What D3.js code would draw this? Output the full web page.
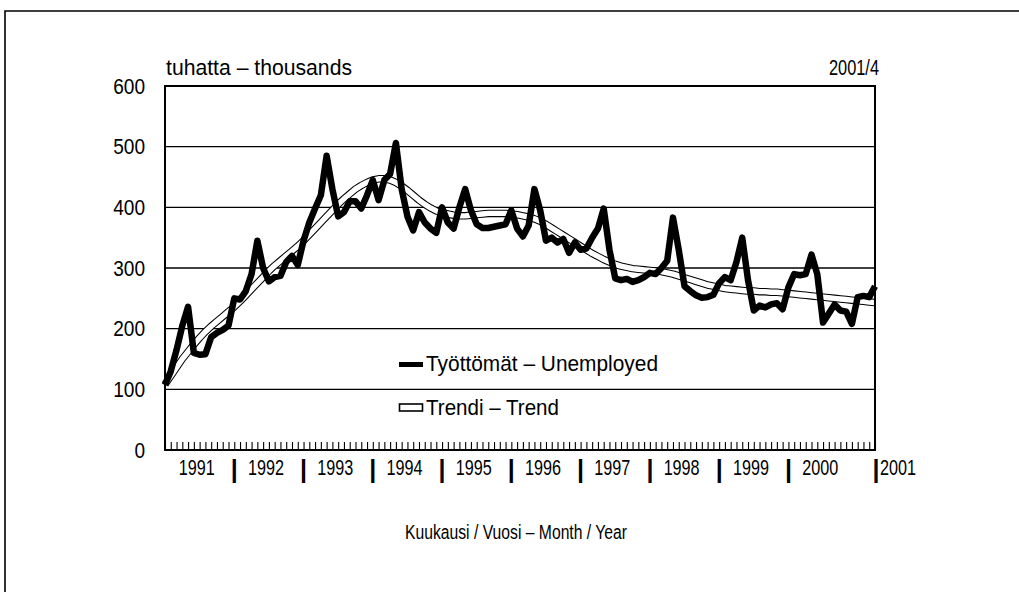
<!DOCTYPE html>
<html><head><meta charset="utf-8">
<script src="https://cdn.jsdelivr.net/npm/d3@7"></script>
<style>
body{margin:0;background:#fff}
text{font-family:"Liberation Sans",Arial,sans-serif;fill:#000}
</style></head>
<body><svg id="c" width="1019" height="602"></svg>
<script>
// ---- data ----
const years = [1991,1992,1993,1994,1995,1996,1997,1998,1999,2000,2001];
const yTicks = [0,100,200,300,400,500,600];
// monthly unemployed (thousands), Jan 1991 .. Apr 2001
const unemployed = [
 107,130,165,205,236,160,157,158,186,193,198,205,
 250,248,262,290,345,300,278,285,287,310,320,305,
 345,375,398,420,485,430,385,392,410,410,398,420,
 445,412,445,455,506,430,385,362,392,375,365,358,
 400,375,365,400,430,395,372,366,366,368,370,372,
 395,365,352,370,430,395,345,350,342,348,325,342,
 330,332,350,365,398,330,283,280,282,277,280,285,
 292,290,300,312,383,330,270,262,255,251,252,256,
 275,285,280,310,350,280,230,238,235,240,242,232,
 268,290,288,290,322,290,210,225,240,230,228,208,
 252,254,252,270
];
const trend = [
 108,122,136,150,162,174,185,195,204,212,220,228,
 236,245,255,265,275,285,295,304,312,320,328,336,
 345,355,365,375,385,395,405,414,422,430,436,441,
 445,447,447,445,441,435,428,420,412,405,399,394,
 391,389,387,386,386,387,388,389,390,390,390,390,
 389,388,386,384,381,377,372,366,360,354,348,342,
 336,330,324,319,314,310,306,303,301,299,298,297,
 296,295,294,292,290,287,284,281,278,275,272,270,
 268,266,265,264,263,262,262,261,261,260,260,259,
 258,257,256,255,254,253,252,251,250,249,248,247,
 246,245,244,243
];
const legendLabels = ["Työttömät – Unemployed","Trendi – Trend"];

// ---- layout ----
const svg = d3.select("#c");
const L=165, R=875, T=86, B=450;
const n = unemployed.length;
const x = d3.scaleLinear().domain([0,n-1]).range([L,R]);
const y = d3.scaleLinear().domain([0,600]).range([B,T]);

// condensed text helper: squeeze glyphs to a given width
function squeeze(sel, w){ sel.attr("textLength",w).attr("lengthAdjust","spacingAndGlyphs"); return sel; }

// outer frame
svg.append("path").attr("d","M5,592V11H1019").attr("fill","none").attr("stroke","#000").attr("stroke-width",1.6);

// gridlines
svg.append("g").selectAll("line").data(yTicks.filter(d=>d>0&&d<600)).join("line")
 .attr("x1",L).attr("x2",R).attr("y1",d=>y(d)).attr("y2",d=>y(d))
 .attr("stroke","#000").attr("stroke-width",1.3);

// y axis labels
const ya = svg.append("g").attr("transform",`translate(${L},0)`)
 .call(d3.axisLeft(y).tickValues(yTicks).tickSize(0).tickPadding(20));
ya.select(".domain").remove();
ya.selectAll("text").style("font-size","22px")
  .attr("textLength",d=>String(d).length*10.6).attr("lengthAdjust","spacingAndGlyphs");

// month ticks
const xa = svg.append("g").attr("transform",`translate(0,${B})`)
 .call(d3.axisBottom(x).tickValues(d3.range(n)).tickSize(-8).tickFormat(""));
xa.select(".domain").remove();
xa.selectAll("line").attr("stroke","#000").attr("stroke-width",1.1);

// trend (hollow)
const line = d3.line().x((d,i)=>x(i)).y(d=>y(d)).curve(d3.curveLinear);
svg.append("path").datum(trend).attr("d",line).attr("fill","none").attr("stroke","#000").attr("stroke-width",7.5).attr("stroke-linejoin","round");
svg.append("path").datum(trend).attr("d",line).attr("fill","none").attr("stroke","#fff").attr("stroke-width",5.4).attr("stroke-linejoin","round");

// unemployed
svg.append("path").datum(unemployed).attr("d",line).attr("fill","none").attr("stroke","#000").attr("stroke-width",6.5).attr("stroke-linejoin","round");

// plot frame
svg.append("rect").attr("x",L).attr("y",T).attr("width",R-L).attr("height",B-T)
 .attr("fill","none").attr("stroke","#000").attr("stroke-width",2);

// titles
squeeze(svg.append("text").attr("x",166).attr("y",75).style("font-size","22px").text("tuhatta – thousands"),186);
squeeze(svg.append("text").attr("x",829).attr("y",75).style("font-size","22px").text("2001/4"),50);

// year labels
const yl = svg.append("g");
years.slice(0,-1).forEach((yr,k)=>{
  squeeze(yl.append("text").attr("x",x(12*k+5.5)-18).attr("y",475).style("font-size","22px").text(yr),36);
  if(k>0) yl.append("text").attr("x",x(12*k)).attr("y",478).attr("text-anchor","middle").style("font-size","25px").style("font-weight","bold").text("|");
});
yl.append("text").attr("x",R+1).attr("y",478).attr("text-anchor","middle").style("font-size","25px").style("font-weight","bold").text("|");
squeeze(yl.append("text").attr("x",R+5).attr("y",475).style("font-size","22px").text(years[years.length-1]),36);

squeeze(svg.append("text").attr("x",405).attr("y",539).style("font-size","20px").text("Kuukausi / Vuosi – Month / Year"),222);

// legend
const lg = svg.append("g");
lg.append("rect").attr("x",399).attr("y",362).attr("width",24).attr("height",5).attr("fill","#000");
squeeze(lg.append("text").attr("x",426).attr("y",371).style("font-size","22px").text(legendLabels[0]),232);
lg.append("rect").attr("x",399.5).attr("y",404).attr("width",23).attr("height",7).attr("fill","#fff").attr("stroke","#000").attr("stroke-width",1.6);
squeeze(lg.append("text").attr("x",426).attr("y",415).style("font-size","22px").text(legendLabels[1]),133);
</script></body></html>
